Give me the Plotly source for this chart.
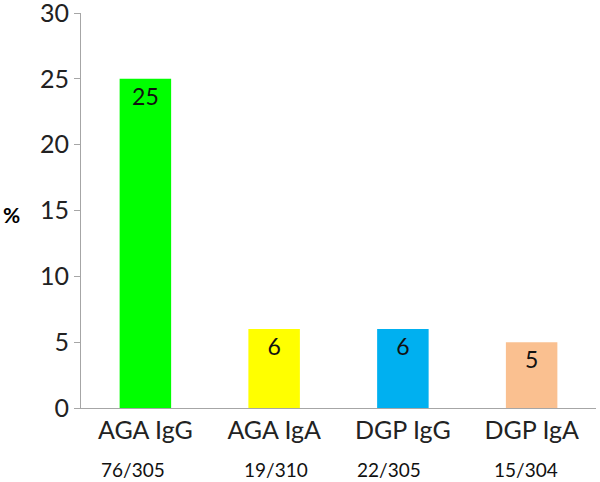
import plotly.graph_objects as go

categories = ["AGA IgG", "AGA IgA", "DGP IgG", "DGP IgA"]
percent = [25, 6, 6, 5]
counts = ["76/305", "19/310", "22/305", "15/304"]
colors = ["#00FF00", "#FFFF00", "#00B0F0", "#FAC090"]
ytick_vals = [0, 5, 10, 15, 20, 25, 30]

# the counts are not quite centred under the bars in the original
count_shift = [-12, 2, -14, -6]

fig = go.Figure(go.Bar(
    x=categories, y=percent,
    text=[str(v) for v in percent],
    textposition="inside", insidetextanchor="end",
    textfont=dict(family="Lato", size=23, color="#111111"),
    marker=dict(color=colors, line=dict(width=0)),
    width=0.4,
))

for cat, c, dx in zip(categories, counts, count_shift):
    fig.add_annotation(x=cat, y=-0.155, xref="x", yref="paper", text=c,
                       showarrow=False, yanchor="middle", xshift=dx,
                       font=dict(family="Lato", size=19, color="#111111"))

fig.add_annotation(x=-0.155, y=0.489, xref="paper", yref="paper", text="<b>%</b>",
                   showarrow=False, font=dict(family="Lato", size=21, color="#000000"))

fig.update_layout(
    width=600, height=482,
    margin=dict(l=81, r=4, t=13, b=74),
    plot_bgcolor="white", paper_bgcolor="white",
    showlegend=False,
    font=dict(family="Lato", color="#222222"),
)
fig.update_xaxes(showline=True, linecolor="#A6A6A6", linewidth=1, ticks="",
                 tickfont=dict(size=25), showgrid=False, automargin=False)
fig.update_yaxes(range=[0, 30], tickmode="array", tickvals=ytick_vals,
                 showline=True, linecolor="#A6A6A6",
                 linewidth=1, ticks="outside", ticklen=6, tickcolor="#A6A6A6",
                 tickfont=dict(size=25), showgrid=False, zeroline=False,
                 automargin=False, ticklabeloverflow="allow")

# drop the default 8px body margin so the figure fills the window
fig.write_html("out.html", config={"displayModeBar": False},
               post_script="document.body.style.margin='0';")
